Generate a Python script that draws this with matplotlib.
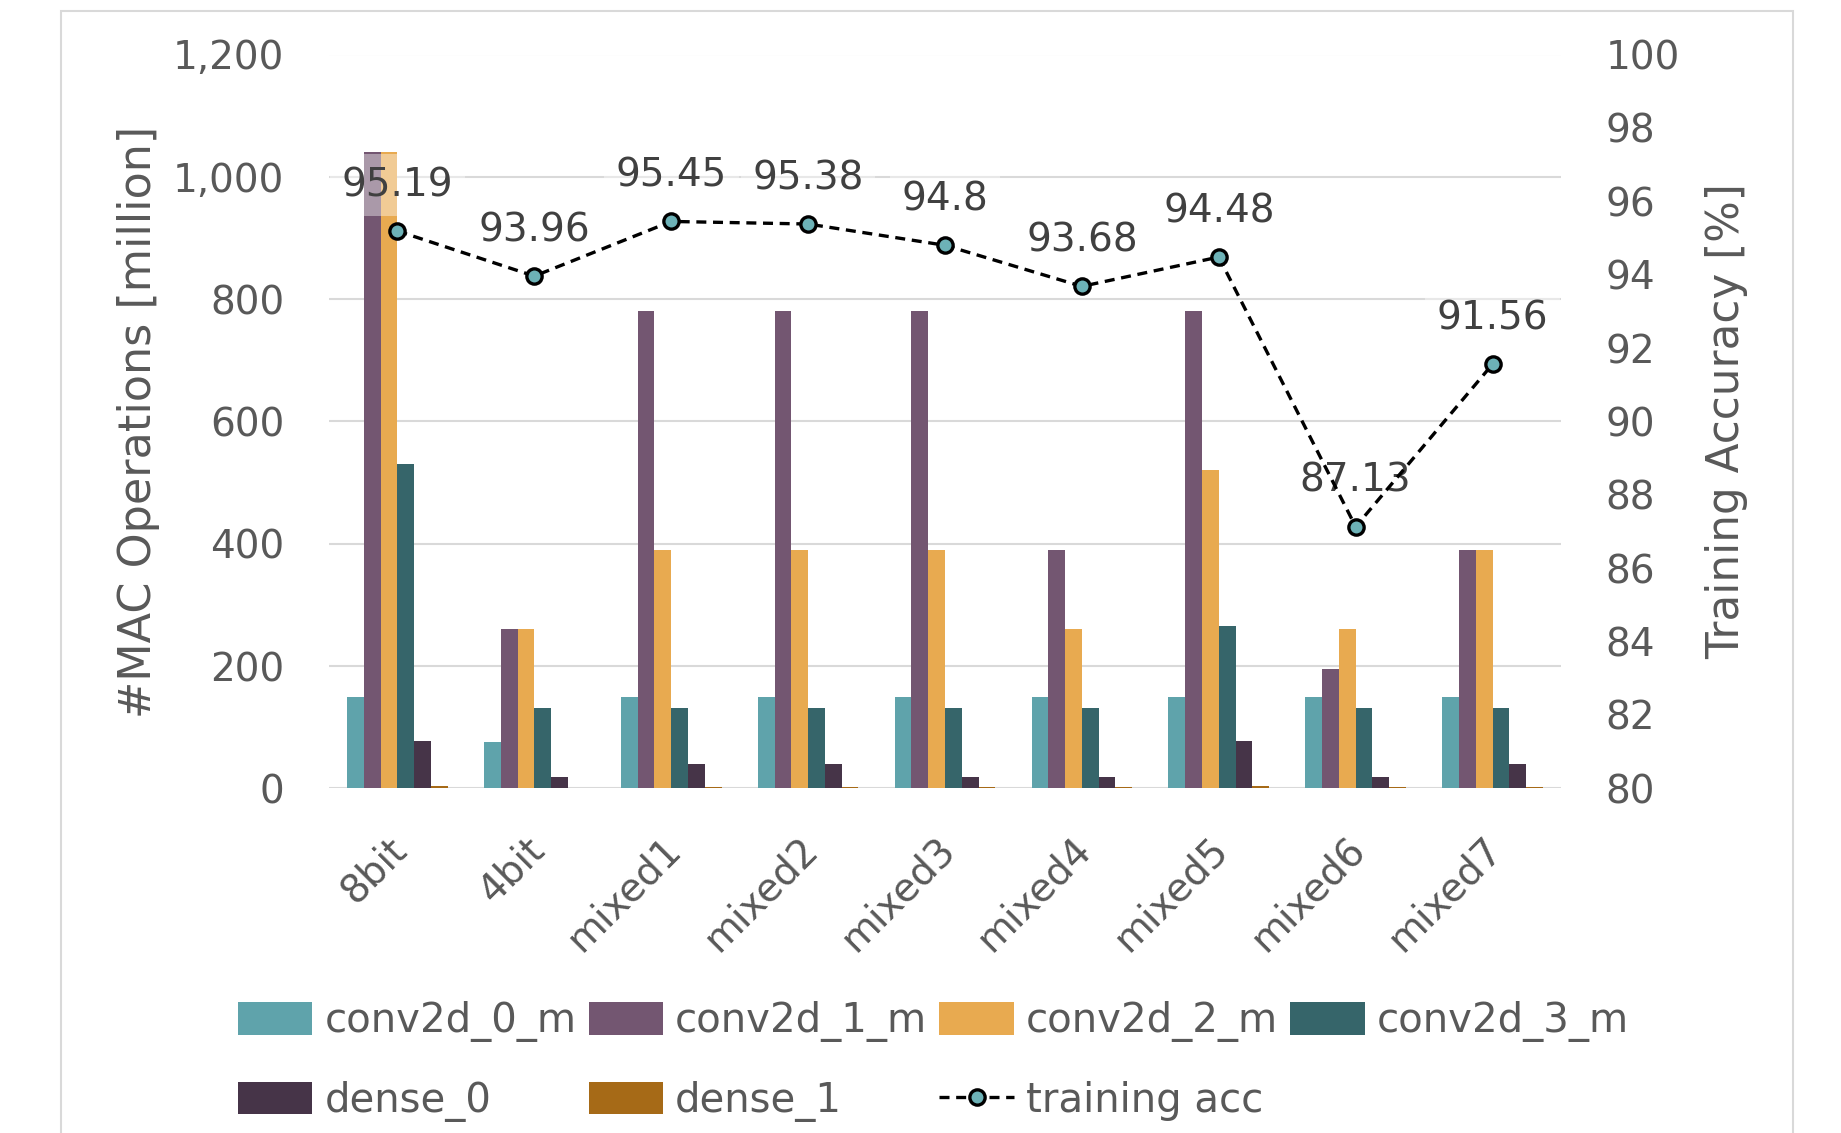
import matplotlib
matplotlib.use("Agg")
import matplotlib.pyplot as plt
import matplotlib.transforms as mtransforms
from matplotlib.patches import Rectangle
import numpy as np

# MAC operations per layer (million) for each quantisation configuration
configs = ["8bit", "4bit", "mixed1", "mixed2", "mixed3", "mixed4", "mixed5", "mixed6", "mixed7"]
conv2d_0_m = [150, 75, 150, 150, 150, 150, 150, 150, 150]
conv2d_1_m = [1040, 260, 780, 780, 780, 390, 780, 195, 390]
conv2d_2_m = [1040, 260, 390, 390, 390, 260, 520, 260, 390]
conv2d_3_m = [530, 132, 132, 132, 132, 132, 265, 132, 132]
dense_0 = [78, 19, 39, 39, 19, 19, 78, 19, 39]
dense_1 = [4, 1, 2, 2, 2, 2, 4, 2, 2]
training_acc = [95.19, 93.96, 95.45, 95.38, 94.8, 93.68, 94.48, 87.13, 91.56]

series = [
    ("conv2d_0_m", conv2d_0_m, "#5fa3ab"),
    ("conv2d_1_m", conv2d_1_m, "#735671"),
    ("conv2d_2_m", conv2d_2_m, "#e8aa50"),
    ("conv2d_3_m", conv2d_3_m, "#36656a"),
    ("dense_0", dense_0, "#463448"),
    ("dense_1", dense_1, "#a66a17"),
]

TXT = "#595959"
FS = 28
plt.rcParams["font.family"] = ["DejaVu Sans"]

fig = plt.figure(figsize=(18.41, 11.33), dpi=100)
fig.patch.set_facecolor("white")

# chart frame
fig.patches.append(Rectangle((61 / 1841, -0.05), (1793 - 61) / 1841, 1.0 + 0.05 - 11 / 1133,
                             transform=fig.transFigure, fill=False,
                             edgecolor="#d9d9d9", linewidth=1.5, zorder=0))

ax = fig.add_axes([329 / 1841, 1 - 788.3 / 1133, (1561 - 329) / 1841, (788.3 - 54.5) / 1133])
x = np.arange(len(configs))
bw = 0.1225
bar_handles = []
for i, (name, vals, col) in enumerate(series):
    offs = (i - 2.5) * bw
    b = ax.bar(x + offs, vals, width=bw, color=col, label=name, zorder=2)
    bar_handles.append(b)

ax.set_xlim(-0.5, len(configs) - 0.5)
ax.set_ylim(0, 1200)
ax.set_yticks(np.arange(0, 1201, 200))
ax.yaxis.set_major_formatter(matplotlib.ticker.FuncFormatter(lambda v, p: f"{int(v):,}"))
ax.grid(axis="y", color="#d9d9d9", linewidth=1.5, zorder=0)
ax.set_axisbelow(True)
for s in ax.spines.values():
    s.set_visible(False)
ax.tick_params(axis="y", length=0, pad=32, labelsize=FS, labelcolor=TXT)
ax.tick_params(axis="x", length=0, pad=30, labelsize=28, labelcolor=TXT)
ax.set_xticks(x)
ax.set_xticklabels(configs, rotation=45, ha="right", va="top", rotation_mode="anchor")
shift = mtransforms.ScaledTranslation(-10 / 100, 0, fig.dpi_scale_trans)
for lab in ax.get_xticklabels():
    lab.set_transform(lab.get_transform() + shift)
ax.set_ylabel("#MAC Operations [million]", fontsize=32, color=TXT)
ax.yaxis.set_label_coords(-0.137, 0.5)

ax2 = ax.twinx()
ax2.set_ylim(80, 100)
ax2.set_yticks(np.arange(80, 101, 2))
for s in ax2.spines.values():
    s.set_visible(False)
ax2.tick_params(axis="y", length=0, pad=32, labelsize=FS, labelcolor=TXT)
ax2.set_ylabel("Training Accuracy [%]", fontsize=31.5, color=TXT)
ax2.yaxis.set_label_coords(1.117, 0.5)

line, = ax2.plot(x, training_acc, color="black", linestyle=(0, (3, 2)), linewidth=2.4,
                 marker="o", markersize=11, markerfacecolor="#6db2b7",
                 markeredgecolor="black", markeredgewidth=2.4, zorder=5,
                 label="training acc")
for xi, v in zip(x, training_acc):
    ax2.annotate(f"{v:g}", (xi, v), xytext=(0, 33), textcoords="offset points",
                 ha="center", va="center", fontsize=FS, color="#404040", zorder=3,
                 bbox=dict(boxstyle="square,pad=0.3", facecolor="white",
                           edgecolor="none", alpha=0.4))

handles = [bar_handles[0], bar_handles[4], bar_handles[1], bar_handles[5],
           bar_handles[2], line, bar_handles[3]]
labels = ["conv2d_0_m", "dense_0", "conv2d_1_m", "dense_1", "conv2d_2_m",
          "training acc", "conv2d_3_m"]
fig.legend(handles, labels, loc="center", bbox_to_anchor=(0.507, 0.063), ncol=4,
           frameon=False, fontsize=29, labelcolor=TXT, handlelength=1.85,
           handleheight=0.85, handletextpad=0.3, columnspacing=0.3, labelspacing=0.95)

fig.savefig("out.png", dpi=100, facecolor="white")
